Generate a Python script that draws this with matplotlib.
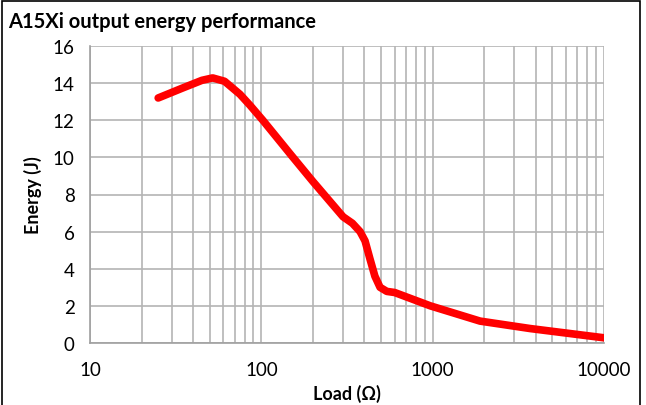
import matplotlib.pyplot as plt
from matplotlib.patches import Rectangle
from matplotlib.ticker import LogLocator, FixedLocator, NullFormatter

# valores
load = [25, 35, 45, 52, 61, 75, 86, 102, 150, 200, 300, 340, 377, 403, 430, 460, 493, 540, 600, 970, 1890, 3700, 10000]
energy = [13.2, 13.75, 14.15, 14.28, 14.1, 13.4, 12.8, 12.0, 10.1, 8.7, 6.8, 6.45, 6.0, 5.5, 4.55, 3.6, 3.0, 2.78, 2.72, 2.0, 1.18, 0.78, 0.28]

x_ticks = [10, 100, 1000, 10000]
x_labels = ['10', '100', '1000', '10000']
y_ticks = [0, 2, 4, 6, 8, 10, 12, 14, 16]

plt.rcParams['font.family'] = ['Lato', 'DejaVu Sans']

fig = plt.figure(figsize=(6.46, 4.06), dpi=100)
ax = fig.add_axes([90 / 646, 62 / 406, 514 / 646, 297 / 406])

ax.plot(load, energy, color='#ff0000', linewidth=5.5, solid_capstyle='round', solid_joinstyle='round', zorder=3)

ax.set_xscale('log')
ax.set_xlim(10, 10000)
ax.set_ylim(0, 16)
ax.xaxis.set_major_locator(FixedLocator(x_ticks))
ax.set_xticklabels(x_labels)
ax.xaxis.set_minor_locator(LogLocator(base=10, subs=range(2, 10)))
ax.xaxis.set_minor_formatter(NullFormatter())
ax.set_yticks(y_ticks)

ax.grid(True, which='both', axis='x', color='#b4b4b4', linewidth=1.2)
ax.grid(True, which='major', axis='y', color='#b4b4b4', linewidth=1.2)
ax.tick_params(which='both', length=0, labelsize=13.5, colors='black')
ax.tick_params(axis='x', pad=13)
ax.tick_params(axis='y', pad=11)

for side in ['top', 'right']:
    ax.spines[side].set_visible(False)
for side in ['left', 'bottom']:
    ax.spines[side].set_color('#a0a0a0')
    ax.spines[side].set_linewidth(1.2)

ax.set_xlabel('Load (Ω)', fontsize=13, fontweight='bold', labelpad=4)
ax.set_ylabel('Energy (J)', fontsize=13, fontweight='bold', labelpad=8)

fig.text(8 / 646, 1 - 22 / 406, 'A15Xi output energy performance', fontsize=14.5, fontweight='bold', va='center', ha='left')

fig.patches.append(Rectangle((2 / 646, -0.01), 638 / 646, 1 - 2 / 406 + 0.01, transform=fig.transFigure,
                             fill=False, edgecolor='black', linewidth=1.2))

fig.savefig('out.png', dpi=100)
